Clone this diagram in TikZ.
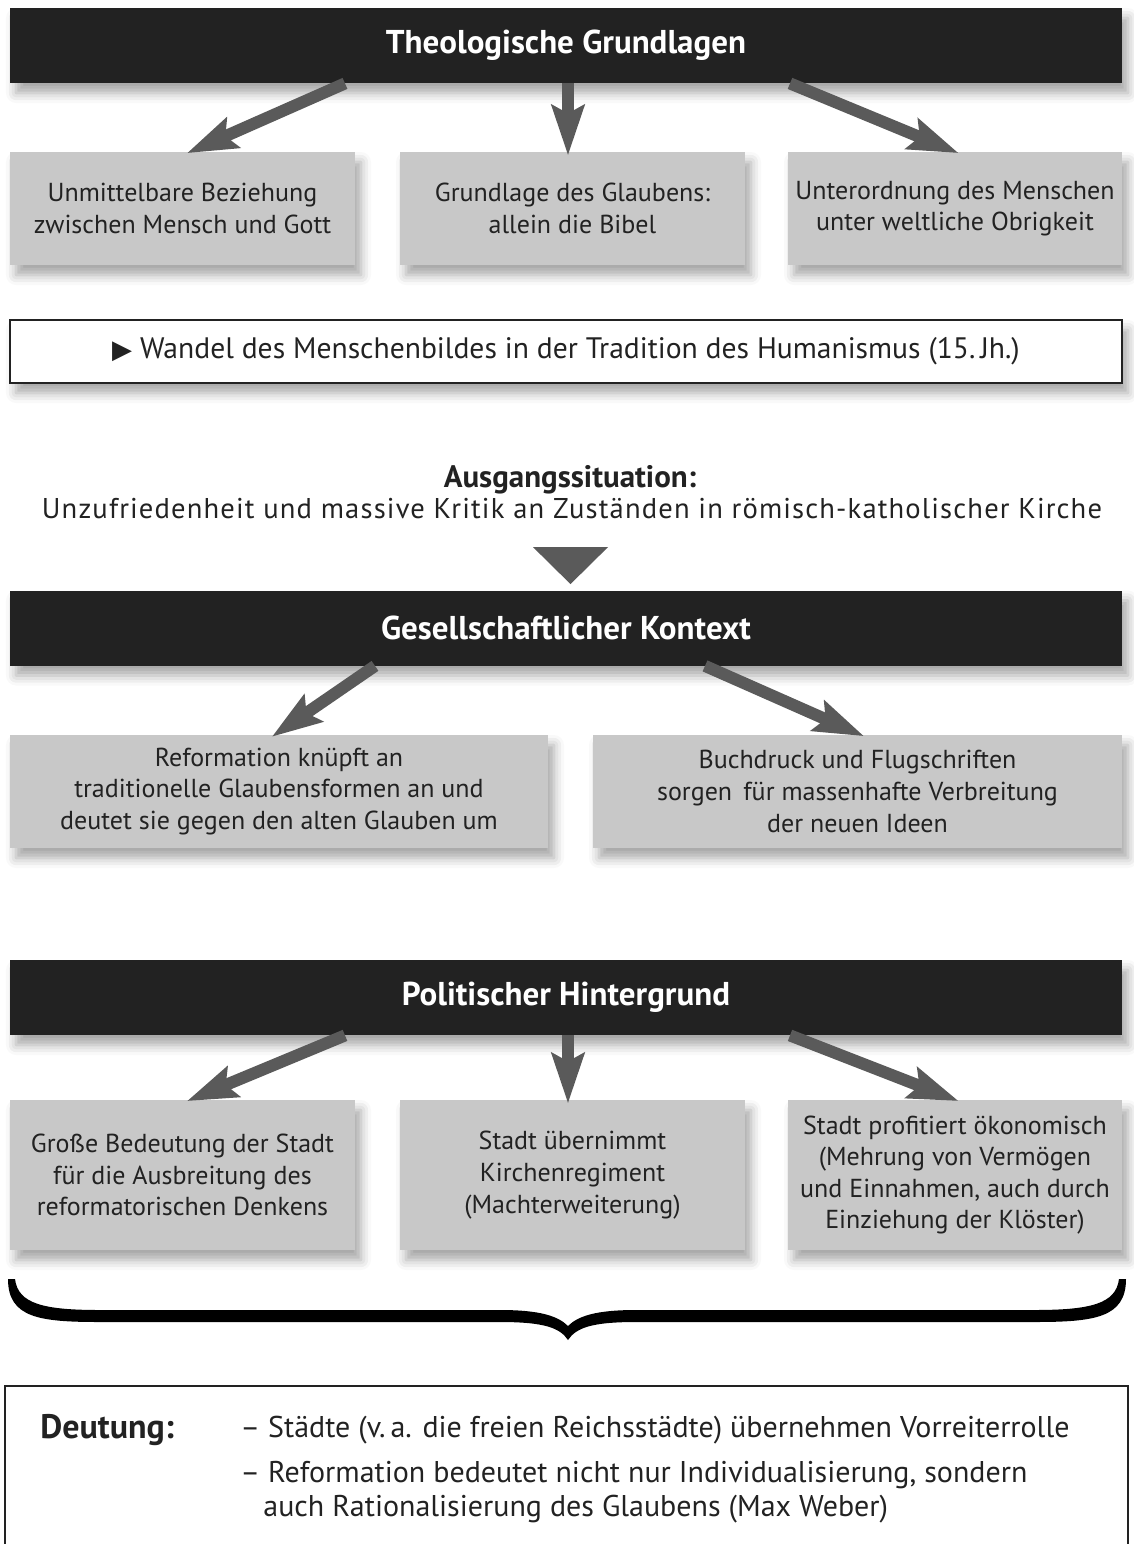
\documentclass[tikz,border=0pt]{standalone}
\usepackage{fontspec}
\setmainfont{PT Sans}
\newfontfamily\symfont{DejaVu Sans}
\usetikzlibrary{arrows.meta, shadows.blur, positioning}
\definecolor{headblack}{HTML}{222222}
\definecolor{boxgray}{HTML}{C8C8C8}
\definecolor{arrgray}{HTML}{5A5A5A}

\begin{document}
\begin{tikzpicture}[
    x=0.5pt, y=-0.5pt,
    every node/.style = {text=headblack, align=center, inner sep=0pt},
    softshadow/.style = {blur shadow={shadow xshift=3pt, shadow yshift=-5pt, shadow blur radius=5pt, shadow opacity=35}},
    head/.style = {fill=headblack, text=white, font=\bfseries\fontsize{16.5}{19}\selectfont,
        minimum width=556pt, minimum height=37.5pt, softshadow},
    graybox/.style = {fill=boxgray, font=\fontsize{13}{15.8}\selectfont, minimum height=56.5pt, softshadow},
    arr/.style = {-{Stealth[length=25pt, width=16pt, inset=4pt]}, line width=6pt, arrgray, shorten >=-2pt}
]
    \useasboundingbox (0,0) rectangle (1134,1544);

    % Theologische Grundlagen
    \node[head] (theo) at (566,45.5) {Theologische Grundlagen};
    \node[graybox, minimum width=172.5pt] (theoA) at (182.5,208.5) {Unmittelbare Beziehung\\zwischen Mensch und Gott};
    \node[graybox, minimum width=172.5pt] (theoB) at (572.5,208.5) {Grundlage des Glaubens:\\allein die Bibel};
    \node[graybox, minimum width=167pt] (theoC) at (955,208.5) {Unterordnung des Menschen\\unter weltliche Obrigkeit};
    \node[draw=headblack, line width=0.6pt, fill=white, minimum width=556pt, minimum height=31.5pt,
        font=\fontsize{14.8}{17}\selectfont, softshadow] (wandel) at (566,351.5)
        {{\symfont\fontsize{13}{15}\selectfont ▶} Wandel des Menschenbildes in der Tradition des Humanismus (15.\,Jh.)};

    \draw[arr] ([xshift=-110.5pt]theo.south) -- ([xshift=4pt]theoA.north);
    \draw[arr] ([xshift=1pt]theo.south) -- ([xshift=-2.25pt]theoB.north);
    \draw[arr] ([xshift=112pt]theo.south) -- (theoC.north);

    % Ausgangssituation
    \node[font=\bfseries\fontsize{15.5}{18}\selectfont] (ausg) at (570,480) {Ausgangssituation:};
    \node[font=\fontsize{14.3}{17}\selectfont\addfontfeature{LetterSpace=4}] (krit) at (572,509)
        {Unzufriedenheit und massive Kritik an Zuständen in römisch-katholischer Kirche};

    % Gesellschaftlicher Kontext
    \node[head] (ges) at (566,628) {Gesellschaftlicher Kontext};
    \fill[arrgray] ([xshift=-16.5pt, yshift=21.5pt]ges.north) -- ([xshift=21pt, yshift=21.5pt]ges.north)
        -- ([xshift=2.25pt, yshift=3pt]ges.north) -- cycle;
    \node[graybox, minimum width=269pt] (gesA) at (279,791.5)
        {Reformation knüpft an\\traditionelle Glaubensformen an und\\deutet sie gegen den alten Glauben um};
    \node[graybox, minimum width=264.5pt] (gesB) at (857.5,791.5)
        {Buchdruck und Flugschriften\\sorgen\, für massenhafte Verbreitung\\der neuen Ideen};

    \draw[arr] ([xshift=-95.5pt]ges.south) -- ([xshift=-2pt]gesA.north);
    \draw[arr] ([xshift=69.5pt]ges.south) -- ([xshift=1.5pt]gesB.north);

    % Politischer Hintergrund
    \node[head] (pol) at (566,997.5) {Politischer Hintergrund};
    \node[graybox, minimum width=172.5pt, minimum height=75pt] (polA) at (182.5,1175)
        {Große Bedeutung der Stadt\\für die Ausbreitung des\\reformatorischen Denkens};
    \node[graybox, minimum width=172.5pt, minimum height=75pt] (polB) at (572.5,1175)
        {Stadt übernimmt\\Kirchenregiment\\(Machterweiterung)};
    \node[graybox, minimum width=167pt, minimum height=75pt] (polC) at (955,1175)
        {Stadt profitiert ökonomisch\\(Mehrung von Vermögen\\und Einnahmen, auch durch\\Einziehung der Klöster)};

    \draw[arr] ([xshift=-110.5pt]pol.south) -- ([xshift=4pt]polA.north);
    \draw[arr] ([xshift=1pt]pol.south) -- ([xshift=-2.25pt]polB.north);
    \draw[arr] ([xshift=112pt]pol.south) -- (polC.north);

    % Klammer
    \fill[black] (8,1279) .. controls (8,1318) and (40,1322) .. (100,1322) -- (500,1322)
        .. controls (545,1322) and (560,1328) .. (568,1340)
        .. controls (576,1328) and (591,1322) .. (636,1322) -- (1034,1322)
        .. controls (1094,1322) and (1126,1318) .. (1126,1279)
        -- (1119,1279) .. controls (1116,1304) and (1090,1310) .. (1034,1310) -- (636,1310)
        .. controls (596,1310) and (578,1316) .. (568,1326)
        .. controls (558,1316) and (540,1310) .. (500,1310) -- (100,1310)
        .. controls (44,1310) and (18,1304) .. (15,1279) -- cycle;

    % Deutung
    \draw[headblack, line width=0.6pt] (5,1560) -- (5,1386) -- (1128,1386) -- (1128,1560);
    \node[font=\bfseries\fontsize{17}{19}\selectfont, anchor=west] (deut) at (40,1430) {Deutung:};
    \node[font=\fontsize{15}{17}\selectfont, anchor=west] (d1) at (240,1430)
        {– Städte (v.\,a. die freien Reichsstädte) übernehmen Vorreiterrolle};
    \node[font=\fontsize{15}{17}\selectfont, anchor=west] (d2) at (240,1475)
        {– Reformation bedeutet nicht nur Individualisierung, sondern};
    \node[font=\fontsize{15}{17}\selectfont, anchor=west] (d3) at (263,1509)
        {auch Rationalisierung des Glaubens (Max Weber)};
\end{tikzpicture}
\end{document}
